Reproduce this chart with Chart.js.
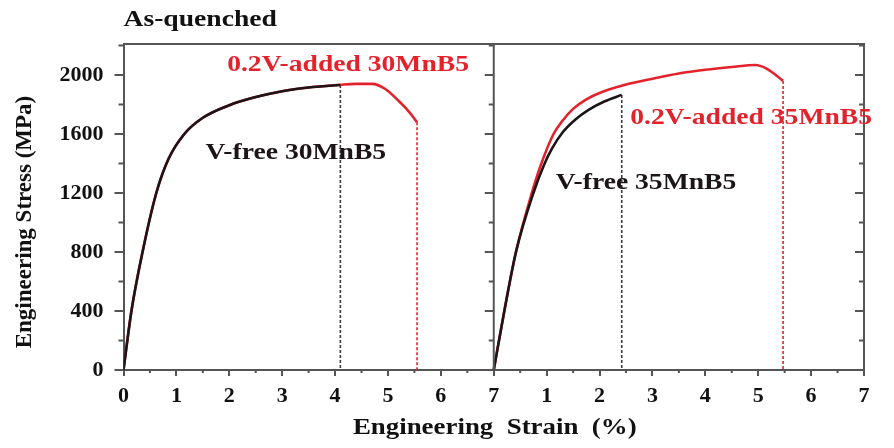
<!DOCTYPE html>
<html>
<head>
<meta charset="utf-8">
<script src="https://cdn.jsdelivr.net/npm/chart.js@4.4.0/dist/chart.umd.min.js"></script>
<style>
  body { margin: 0; background: #fff; }
</style>
</head>
<body>
<canvas id="grafico" width="894" height="448"></canvas>
<script>
// dati (strain %, stress MPa)
var strainFree30 = [0, 0.15, 0.36, 0.62, 0.85, 1.15, 1.5, 2.0, 2.5, 3.0, 3.5, 4.1];
var stressFree30 = [0, 400, 800, 1200, 1430, 1600, 1710, 1795, 1850, 1890, 1915, 1932];

var strainV30 = [0, 0.15, 0.36, 0.62, 0.85, 1.15, 1.5, 2.0, 2.5, 3.0, 3.5, 4.1, 4.4, 4.7, 4.95, 5.2, 5.4, 5.55];
var stressV30 = [0, 400, 800, 1200, 1430, 1600, 1710, 1795, 1850, 1890, 1915, 1934, 1940, 1940, 1905, 1825, 1750, 1680];

var strainFree35 = [0, 0.2, 0.42, 0.75, 0.95, 1.1, 1.3, 1.55, 1.8, 2.1, 2.42];
var stressFree35 = [0, 400, 800, 1200, 1390, 1500, 1610, 1700, 1765, 1822, 1865];

var strainV35 = [0, 0.2, 0.42, 0.72, 0.9, 1.13, 1.3, 1.5, 1.75, 2.0, 2.5, 3.0, 3.5, 4.0, 4.5, 4.95, 5.15, 5.35, 5.47];
var stressV35 = [0, 400, 800, 1200, 1400, 1600, 1690, 1770, 1835, 1878, 1935, 1975, 2010, 2035, 2054, 2068, 2045, 1995, 1960];

var xTicks = [0, 1, 2, 3, 4, 5, 6, 7];
var yTicks = [0, 400, 800, 1200, 1600, 2000];

var PANNELLO = 7; // larghezza di un pannello sull'asse x
var ROSSO = '#e3222c';
var NERO = '#1c1416';
var ASSE = '#555555';
var SERIF = "'Liberation Serif', 'Times New Roman', serif";

// costruisco i punti, il secondo pannello spostato di PANNELLO
function punti(strain, stress, offset) {
    var out = [];
    for (var i = 0; i < strain.length; i++) {
        out.push({ x: strain[i] + offset, y: stress[i] });
    }
    return out;
}

// linea verticale tratteggiata dall'ultimo punto fino a zero
function caduta(strain, stress, offset) {
    var last = strain.length - 1;
    return [{ x: strain[last] + offset, y: stress[last] }, { x: strain[last] + offset, y: 0 }];
}

// order: il numero piu' basso viene disegnato sopra
function curva(data, colore, ordine) {
    return { data: data, borderColor: colore, borderWidth: 2.6, pointRadius: 0, cubicInterpolationMode: 'monotone', fill: false, order: ordine };
}

function tratteggio(data, colore) {
    return { data: data, borderColor: colore, borderWidth: 1.6, borderDash: [3, 2], pointRadius: 0, tension: 0, fill: false, order: 3 };
}

var etichette = [
    { text: '0.2V-added 30MnB5', x: 1.96, y: 2068, color: ROSSO },
    { text: 'V-free 30MnB5', x: 1.55, y: 1471, color: NERO },
    { text: '0.2V-added 35MnB5', x: PANNELLO + 2.58, y: 1708, color: ROSSO },
    { text: 'V-free 35MnB5', x: PANNELLO + 1.17, y: 1268, color: NERO }
];

function testo(c, str, x, y, size, color, sx, align) {
    c.save();
    c.font = 'bold ' + size + 'px ' + SERIF;
    c.fillStyle = color;
    c.textBaseline = 'middle';
    c.textAlign = 'left';
    var w = c.measureText(str).width * sx;
    var x0 = align === 'center' ? x - w / 2 : x;
    c.translate(x0, y);
    c.scale(sx, 1);
    c.fillText(str, 0, 0);
    c.restore();
}

var cornice = {
    id: 'cornice',
    afterDraw: function(chart) {
        var c = chart.ctx;
        var xs = chart.scales.x;
        var ys = chart.scales.y;
        var a = chart.chartArea;
        c.save();
        c.strokeStyle = ASSE;
        c.lineWidth = 2;
        c.beginPath();
        c.moveTo(a.left, a.top);
        c.lineTo(a.right, a.top);
        c.lineTo(a.right, a.bottom);
        var xd = xs.getPixelForValue(PANNELLO);
        c.moveTo(xd, a.top);
        c.lineTo(xd, a.bottom);
        c.stroke();

        // tacche sulle y: sinistra verso fuori, divisorio e destra verso dentro
        c.beginPath();
        for (var v = 200; v < ys.max; v += 200) {
            var py = ys.getPixelForValue(v);
            var lung = (v % 400 === 0) ? 9 : 5;
            if (v % 400 !== 0) {
                c.moveTo(a.left - lung, py);
                c.lineTo(a.left, py);
            }
            c.moveTo(xd - lung, py);
            c.lineTo(xd, py);
            c.moveTo(a.right - lung, py);
            c.lineTo(a.right, py);
        }
        // tacche minori sulle x
        for (var t = 0.5; t < 2 * PANNELLO; t += 1) {
            var px = xs.getPixelForValue(t);
            c.moveTo(px, a.bottom);
            c.lineTo(px, a.bottom + 3);
        }
        c.stroke();
        c.restore();

        // etichette delle curve
        etichette.forEach(function(e) {
            testo(c, e.text, xs.getPixelForValue(e.x), ys.getPixelForValue(e.y), 23, e.color, 1.2, 'left');
        });

        // titolo
        testo(c, 'As-quenched', a.left, 20, 23, '#111', 1.2, 'left');
        // titolo asse x
        testo(c, 'Engineering  Strain  (%)', (a.left + a.right) / 2 + 1, 428, 24, '#111', 1.12, 'center');

        // titolo asse y
        c.save();
        c.translate(25, 222);
        c.rotate(-Math.PI / 2);
        c.font = 'bold 23px ' + SERIF;
        c.fillStyle = '#111';
        c.textAlign = 'center';
        c.textBaseline = 'middle';
        c.fillText('Engineering Stress (MPa)', 0, 0);
        c.restore();
    }
};

var ctx = document.getElementById('grafico');
var chart = new Chart(ctx, {
    type: 'line',
    data: {
        datasets: [
            tratteggio(caduta(strainV30, stressV30, 0), ROSSO),
            tratteggio(caduta(strainFree30, stressFree30, 0), '#3a3a3a'),
            tratteggio(caduta(strainV35, stressV35, PANNELLO), ROSSO),
            tratteggio(caduta(strainFree35, stressFree35, PANNELLO), '#3a3a3a'),
            curva(punti(strainV30, stressV30, 0), ROSSO, 2),
            curva(punti(strainFree30, stressFree30, 0), NERO, 1),
            curva(punti(strainFree35, stressFree35, PANNELLO), NERO, 1),
            curva(punti(strainV35, stressV35, PANNELLO), ROSSO, 2)
        ]
    },
    options: {
        responsive: false,
        animation: false,
        layout: { padding: { top: 44, right: 30, left: 0, bottom: 0 } },
        plugins: { legend: { display: false }, tooltip: { enabled: false } },
        scales: {
            x: {
                type: 'linear',
                min: 0,
                max: 2 * PANNELLO,
                afterBuildTicks: function(s) {
                    var tt = [];
                    xTicks.forEach(function(v) { tt.push({ value: v }); });
                    xTicks.forEach(function(v) { if (v > 0) tt.push({ value: v + PANNELLO }); });
                    s.ticks = tt;
                },
                ticks: {
                    autoSkip: false,
                    maxRotation: 0,
                    padding: 7,
                    color: '#111',
                    font: { family: SERIF, size: 22, weight: 'bold' },
                    callback: function(v) { return String(v > PANNELLO ? v - PANNELLO : v); }
                },
                grid: { drawOnChartArea: false, tickLength: 6, color: ASSE, lineWidth: 2 },
                border: { color: ASSE, width: 2 },
                afterFit: function(s) { s.height = 78; }
            },
            y: {
                min: 0,
                max: 2210,
                afterBuildTicks: function(s) {
                    s.ticks = yTicks.map(function(v) { return { value: v }; });
                },
                ticks: {
                    padding: 11,
                    color: '#111',
                    font: { family: SERIF, size: 22, weight: 'bold' },
                    callback: function(v) { return String(v); }
                },
                grid: { drawOnChartArea: false, tickLength: 9, color: ASSE, lineWidth: 2 },
                border: { color: ASSE, width: 2 },
                afterFit: function(s) { s.width = 123.5; }
            }
        }
    },
    plugins: [cornice]
});
</script>
</body>
</html>
